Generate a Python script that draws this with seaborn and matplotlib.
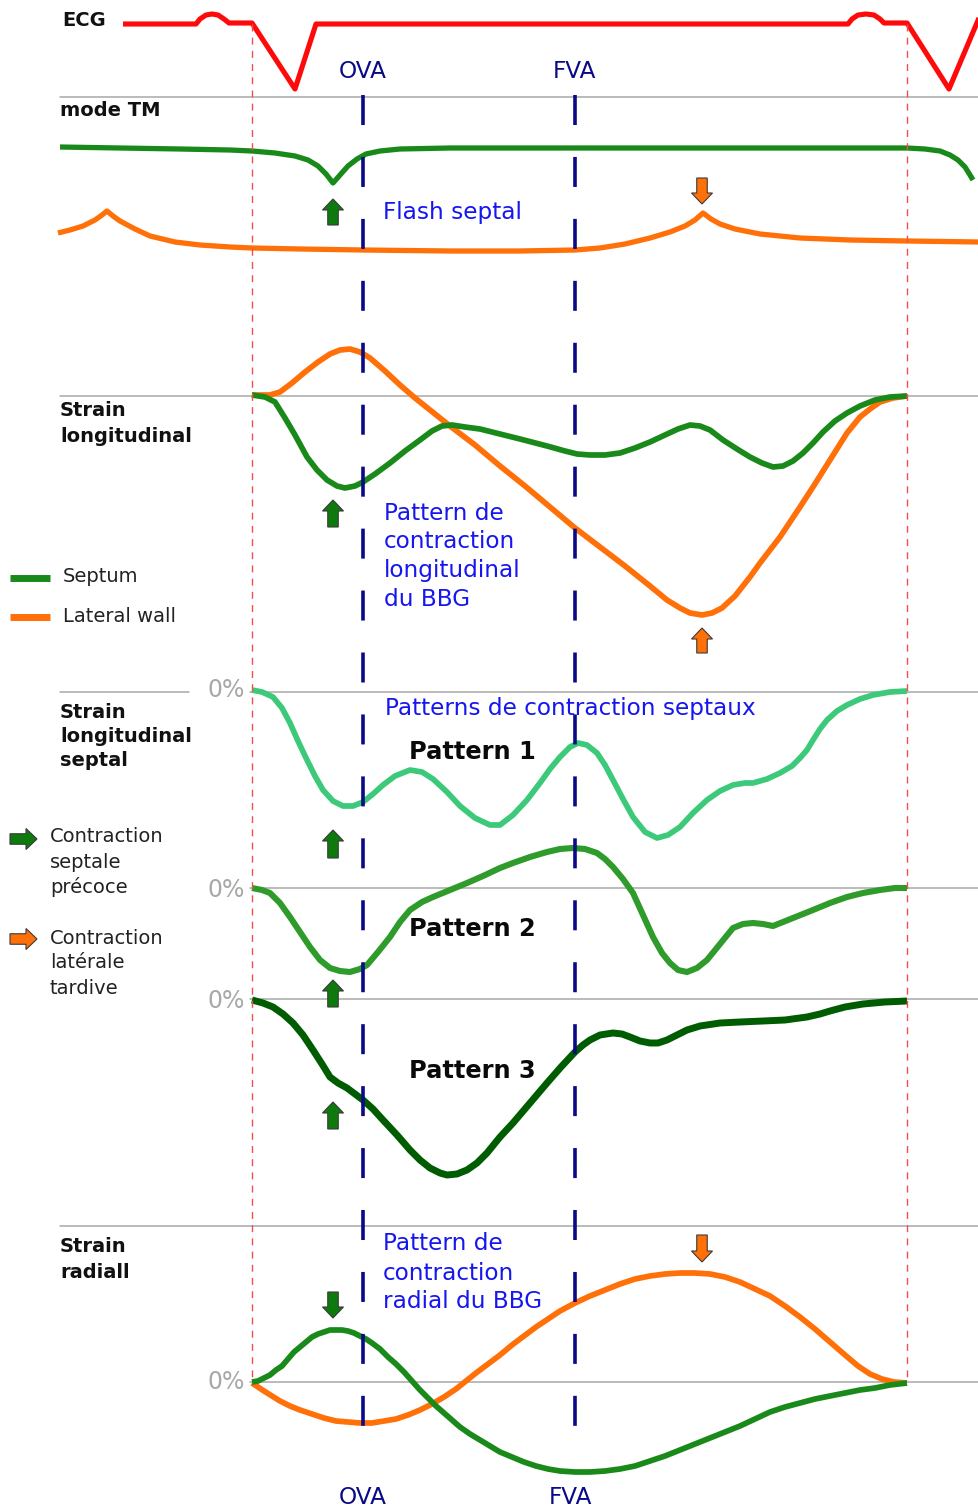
import matplotlib
matplotlib.use("Agg")
import matplotlib.pyplot as plt
import seaborn as sns
from matplotlib.patches import FancyArrow

# ---------------- data (time on x, signal level on y) ----------------
ecg_t = [123, 196, 200, 206, 212, 218, 224, 229, 252, 295, 316, 848, 852, 858, 866, 874, 880, 884, 907, 949, 979]
ecg_v = [24, 24, 19, 15, 14, 15, 19, 23, 23, 89, 24, 24, 19, 15, 14, 15, 19, 23, 23, 89, 18]

tm_sept_t = [60, 120, 180, 230, 252, 275, 295, 308, 318, 326, 333, 340, 348, 357, 366, 380, 400, 450, 575, 700, 800, 907, 925, 940, 950, 958, 965, 970, 973]
tm_sept_v = [147, 148, 149, 150, 151, 153, 156, 160, 166, 174, 183, 175, 166, 159, 154, 151, 149, 148, 148, 148, 148, 148, 149, 151, 155, 160, 167, 175, 180]

tm_lat_t = [58, 70, 83, 95, 102, 107, 113, 120, 135, 150, 175, 200, 230, 252, 300, 363, 450, 520, 575, 600, 625, 650, 670, 685, 695, 703, 711, 720, 735, 760, 800, 850, 907, 979]
tm_lat_v = [233, 230, 226, 220, 215, 211, 216, 221, 229, 236, 242, 245, 247, 248, 249, 250, 251, 251, 250, 248, 244, 238, 232, 226, 220, 213, 219, 224, 229, 234, 238, 240, 241, 242]

sl_lat_t = [252, 270, 280, 292, 305, 318, 330, 340, 350, 360, 370, 385, 400, 415, 430, 450, 475, 500, 525, 550, 575, 600, 625, 650, 667, 680, 690, 702, 712, 722, 735, 750, 760, 780, 800, 813, 830, 847, 860, 870, 880, 893, 907]
sl_lat_v = [395, 395, 392, 383, 372, 362, 354, 350, 349, 352, 358, 371, 385, 398, 410, 426, 445, 466, 486, 507, 528, 547, 566, 586, 600, 608, 613, 615, 613, 608, 596, 577, 563, 537, 507, 487, 460, 433, 417, 409, 402, 398, 396]

sl_sep_t = [252, 265, 275, 285, 295, 307, 317, 327, 337, 345, 355, 363, 375, 390, 405, 420, 432, 442, 452, 465, 480, 500, 520, 547, 565, 577, 590, 605, 620, 635, 650, 665, 678, 690, 700, 710, 723, 737, 750, 762, 773, 783, 793, 803, 813, 823, 835, 847, 860, 875, 890, 907]
sl_sep_v = [395, 397, 402, 418, 435, 457, 470, 480, 486, 488, 486, 482, 474, 463, 451, 440, 431, 426, 425, 427, 429, 434, 439, 446, 451, 454, 455, 455, 453, 448, 442, 435, 429, 425, 426, 430, 440, 449, 457, 463, 467, 466, 461, 453, 443, 432, 421, 413, 406, 400, 397, 396]

p1_t = [252, 262, 273, 282, 290, 298, 307, 315, 323, 333, 343, 353, 363, 373, 383, 395, 410, 422, 433, 447, 460, 475, 490, 500, 513, 527, 540, 550, 560, 570, 578, 587, 597, 605, 613, 623, 633, 645, 657, 668, 680, 693, 707, 720, 733, 745, 753, 767, 780, 792, 800, 807, 813, 820, 827, 837, 847, 860, 873, 890, 907]
p1_v = [690, 692, 697, 708, 723, 741, 760, 776, 790, 801, 806, 806, 802, 794, 785, 776, 770, 772, 779, 792, 806, 818, 825, 825, 815, 800, 783, 769, 757, 747, 743, 745, 753, 765, 780, 799, 817, 832, 838, 835, 827, 813, 800, 791, 785, 783, 783, 779, 773, 766, 758, 750, 740, 729, 720, 711, 705, 699, 695, 692, 691]

p2_t = [252, 262, 270, 280, 290, 300, 310, 320, 330, 340, 350, 360, 367, 378, 390, 400, 410, 422, 433, 450, 467, 483, 500, 513, 530, 547, 560, 573, 585, 597, 605, 613, 623, 633, 643, 653, 662, 670, 678, 687, 697, 707, 720, 733, 743, 753, 763, 773, 793, 813, 830, 847, 863, 880, 895, 907]
p2_v = [888, 890, 893, 903, 917, 932, 947, 960, 968, 971, 972, 969, 965, 952, 937, 922, 910, 902, 897, 890, 883, 876, 868, 863, 857, 852, 849, 848, 849, 853, 859, 867, 879, 893, 915, 937, 953, 963, 970, 972, 968, 960, 944, 928, 924, 923, 924, 926, 918, 910, 903, 897, 893, 890, 888, 888]

p3_t = [252, 263, 273, 283, 293, 303, 313, 322, 330, 338, 347, 355, 363, 373, 383, 397, 410, 420, 430, 440, 447, 457, 467, 477, 487, 500, 513, 530, 547, 561, 575, 583, 590, 600, 613, 622, 630, 640, 650, 658, 667, 677, 687, 700, 720, 740, 763, 785, 807, 820, 830, 845, 863, 885, 907]
p3_v = [1000, 1003, 1007, 1014, 1023, 1035, 1050, 1064, 1077, 1083, 1088, 1094, 1100, 1109, 1120, 1135, 1150, 1160, 1168, 1173, 1175, 1174, 1170, 1163, 1153, 1137, 1123, 1103, 1083, 1067, 1052, 1045, 1040, 1035, 1033, 1034, 1037, 1041, 1043, 1043, 1040, 1035, 1030, 1026, 1023, 1022, 1021, 1020, 1017, 1014, 1011, 1007, 1004, 1002, 1001]

sr_sep_t = [252, 258, 264, 270, 276, 282, 288, 294, 300, 306, 312, 318, 324, 330, 336, 342, 348, 354, 360, 366, 372, 380, 388, 396, 404, 412, 420, 428, 436, 444, 452, 460, 470, 480, 490, 500, 512, 524, 536, 548, 560, 575, 590, 605, 620, 635, 650, 665, 680, 695, 710, 725, 740, 755, 770, 785, 800, 815, 830, 845, 860, 875, 890, 907]
sr_sep_v = [1382, 1381, 1378, 1375, 1370, 1366, 1359, 1352, 1347, 1342, 1337, 1334, 1332, 1330, 1330, 1330, 1331, 1333, 1336, 1339, 1343, 1349, 1357, 1364, 1372, 1381, 1390, 1398, 1406, 1413, 1420, 1427, 1434, 1440, 1446, 1452, 1457, 1462, 1466, 1469, 1471, 1472, 1472, 1471, 1469, 1466, 1461, 1456, 1450, 1444, 1438, 1432, 1426, 1419, 1412, 1407, 1403, 1399, 1396, 1393, 1390, 1388, 1385, 1383]

sr_lat_t = [252, 258, 264, 272, 280, 290, 300, 312, 324, 336, 348, 360, 372, 384, 396, 408, 420, 432, 444, 456, 466, 476, 488, 500, 512, 524, 536, 548, 560, 575, 590, 605, 620, 635, 650, 665, 680, 695, 710, 725, 740, 755, 770, 785, 800, 815, 830, 845, 858, 870, 882, 894, 907]
sr_lat_v = [1383, 1387, 1391, 1396, 1401, 1406, 1410, 1414, 1418, 1421, 1422, 1423, 1423, 1421, 1419, 1415, 1410, 1404, 1397, 1389, 1381, 1373, 1364, 1355, 1345, 1336, 1327, 1319, 1311, 1303, 1296, 1290, 1284, 1279, 1276, 1274, 1273, 1273, 1274, 1277, 1282, 1289, 1296, 1306, 1317, 1329, 1342, 1355, 1366, 1374, 1379, 1382, 1383]

zero_labels = ["0%", "0%", "0%", "0%"]
event_names = ["OVA", "FVA"]

# ---------------- styling / layout ----------------
sns.set_theme(style="white")
plt.rcParams['font.family'] = ['DejaVu Sans']
plt.rcParams['lines.scale_dashes'] = False

W, H = 979, 1509
fig = plt.figure(figsize=(W / 100, H / 100), dpi=100)
ax = fig.add_axes([0, 0, 1, 1])

RED = "#FF0A0A"
NAVY = "#0A0A86"
BLUE = "#1616EE"
GREEN = "#198A19"
ORANGE = "#FF7008"
P1 = "#3CC97A"
P2 = "#2E9B2B"
P3 = "#005C00"
GRAY = "#A8A8A8"

# gray reference lines
for y0, xa, xb in [(97, 60, 979), (396, 60, 979), (692, 60, 189), (692, 250, 979),
                   (888, 250, 979), (999, 250, 979), (1226, 60, 979), (1382, 250, 979)]:
    ax.plot([xa, xb], [y0, y0], color=GRAY, lw=1.1, zorder=1)


def curve(t, v, color, lw, z=3):
    sns.lineplot(x=t, y=v, ax=ax, color=color, linewidth=lw, sort=False,
                 estimator=None, legend=False, zorder=z)
    ln = ax.lines[-1]
    ln.set_solid_joinstyle('round')
    ln.set_solid_capstyle('butt')


curve(ecg_t, ecg_v, RED, 3.7)
curve(tm_sept_t, tm_sept_v, GREEN, 3.8)
curve(tm_lat_t, tm_lat_v, ORANGE, 3.8)
curve(sl_lat_t, sl_lat_v, ORANGE, 4.1)
curve(sl_sep_t, sl_sep_v, GREEN, 4.1)
curve(p1_t, p1_v, P1, 4.1)
curve(p2_t, p2_v, P2, 4.4)
curve(p3_t, p3_v, P3, 5.0)
curve(sr_lat_t, sr_lat_v, ORANGE, 4.1)
curve(sr_sep_t, sr_sep_v, GREEN, 4.1)

# vertical markers
for xv in (252, 907):
    ax.plot([xv, xv], [24, 1382], color="#F24E4E", lw=1.0, ls=(0, (5, 4.5)), zorder=5)
for xv in (363, 575):
    ax.plot([xv, xv], [95, 1428], color=NAVY, lw=2.6, ls=(0, (21.6, 23.0)), zorder=5,
            solid_capstyle='butt', dash_capstyle='butt')

# block arrows (x, start y, end y, colour)
arrows = [(333, 225, 199, GREEN), (333, 527, 500, GREEN), (333, 858, 830, GREEN),
          (333, 1007, 980, GREEN), (333, 1129, 1102, GREEN), (333, 1292, 1318, GREEN),
          (702, 178, 204, ORANGE), (702, 653, 628, ORANGE), (702, 1235, 1262, ORANGE)]
for xa, ya, yb, c in arrows:
    ax.add_patch(FancyArrow(xa, ya, 0, yb - ya, width=10.5, head_width=21, head_length=11,
                            length_includes_head=True, fc=c if c == ORANGE else "#0E7A0E",
                            ec="#3A3A3A", lw=0.8, zorder=6))
for ya, c in [(839, "#0E7A0E"), (939, ORANGE)]:
    ax.add_patch(FancyArrow(10, ya, 27, 0, width=10.5, head_width=21, head_length=11,
                            length_includes_head=True, fc=c, ec="#3A3A3A", lw=0.8, zorder=6))

# legend lines
ax.plot([10, 50], [578, 578], color=GREEN, lw=5, solid_capstyle='butt')
ax.plot([10, 50], [617, 617], color=ORANGE, lw=5, solid_capstyle='butt')


def txt(x, y, s, size, color="#111111", weight="normal", ha="left"):
    ax.text(x, y, s, fontsize=size, color=color, fontweight=weight, ha=ha, va="center", zorder=7)


# panel labels
txt(62, 21, "ECG", 14, weight="bold")
txt(60, 110, "mode TM", 14, weight="bold")
txt(60, 411, "Strain", 14, weight="bold")
txt(60, 436, "longitudinal", 14, weight="bold")
txt(60, 712, "Strain", 14, weight="bold")
txt(60, 737, "longitudinal", 14, weight="bold")
txt(60, 761, "septal", 14, weight="bold")
txt(60, 1247, "Strain", 14, weight="bold")
txt(60, 1272, "radiall", 14, weight="bold")

# legends
txt(63, 576, "Septum", 14, "#222222")
txt(63, 617, "Lateral wall", 14, "#222222")
for i, s in enumerate(["Contraction", "septale", "précoce"]):
    txt(50, 837 + 25 * i, s, 14, "#222222")
for i, s in enumerate(["Contraction", "latérale", "tardive"]):
    txt(50, 938 + 25 * i, s, 14, "#222222")

# events
txt(363, 72, event_names[0], 16.7, NAVY, ha="center")
txt(575, 72, event_names[1], 16.7, NAVY, ha="center")
txt(363, 1497, event_names[0], 16.7, NAVY, ha="center")
txt(571, 1497, event_names[1], 16.7, NAVY, ha="center")

# zero labels
for s, y0 in zip(zero_labels, [690, 890, 1001, 1382]):
    txt(245, y0, s, 17, "#A8A8A8", ha="right")

# blue annotations
txt(383, 213, "Flash septal", 16.7, BLUE)
for i, s in enumerate(["Pattern de", "contraction", "longitudinal", "du BBG"]):
    txt(384, 513 + 29 * i, s, 16.7, BLUE)
txt(385, 708, "Patterns de contraction septaux", 16.7, BLUE)
for i, s in enumerate(["Pattern de", "contraction", "radial du BBG"]):
    txt(383, 1244 + 29 * i, s, 16.7, BLUE)

# pattern names
txt(409, 752, "Pattern 1", 17.4, "#0A0A0A", weight="bold")
txt(409, 929, "Pattern 2", 17.4, "#0A0A0A", weight="bold")
txt(409, 1071, "Pattern 3", 17.4, "#0A0A0A", weight="bold")

ax.set_xlim(0, W)
ax.set_ylim(H, 0)
ax.axis('off')
fig.savefig("out.png", dpi=100, facecolor="white")
